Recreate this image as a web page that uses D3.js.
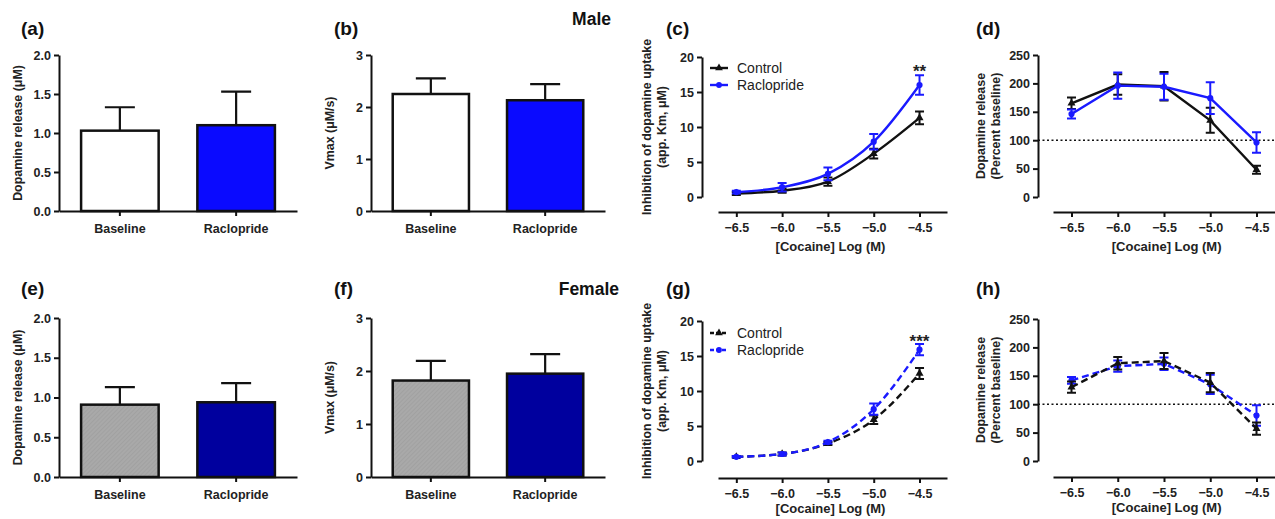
<!DOCTYPE html>
<html lang="en">
<head>
<meta charset="UTF-8">
<title>Raclopride and cocaine</title>
<script src="https://cdn.jsdelivr.net/npm/d3@7"></script>
<style>
  body { margin: 0; background: #fff; }
  text { font-family: "Liberation Sans", Arial, sans-serif; }
</style>
</head>
<body>
<svg width="1275" height="519"></svg>
<script>
// data
var cats = ["Baseline", "Raclopride"];
var releaseMale = [1.03, 1.10], releaseMaleErr = [0.30, 0.43];
var vmaxMale = [2.25, 2.13], vmaxMaleErr = [0.30, 0.31];
var releaseFemale = [0.91, 0.94], releaseFemaleErr = [0.22, 0.24];
var vmaxFemale = [1.82, 1.95], vmaxFemaleErr = [0.37, 0.37];

var logCocaine = [-6.5, -6.0, -5.5, -5.0, -4.5];
var kmMaleCtl = [0.5, 0.9, 2.2, 6.2, 11.3], kmMaleCtlErr = [0.2, 0.3, 0.6, 0.7, 0.9];
var kmMaleRac = [0.7, 1.4, 3.3, 7.9, 16.0], kmMaleRacErr = [0.2, 0.6, 0.9, 1.1, 1.4];
var kmFemCtl = [0.6, 1.0, 2.5, 5.9, 12.5], kmFemCtlErr = [0.1, 0.2, 0.2, 0.6, 0.8];
var kmFemRac = [0.6, 1.0, 2.7, 7.4, 15.9], kmFemRacErr = [0.1, 0.2, 0.2, 0.8, 0.8];
var relMaleCtl = [165, 198, 195, 135, 48], relMaleCtlErr = [10, 18, 25, 22, 7];
var relMaleRac = [146, 196, 194, 174, 96], relMaleRacErr = [8, 23, 23, 28, 18];
var relFemCtl = [130, 172, 176, 138, 57], relFemCtlErr = [10, 11, 14, 17, 11];
var relFemRac = [142, 167, 171, 135, 80], relFemRacErr = [6, 10, 11, 17, 18];

var kmTicks = [0, 5, 10, 15, 20];
var relTicks = [0, 50, 100, 150, 200, 250];

var svg = d3.select("svg");

// hatch for the grey bars
var defs = svg.append("defs");
var pat = defs.append("pattern")
    .attr("id", "hatch").attr("patternUnits", "userSpaceOnUse")
    .attr("width", 3).attr("height", 3)
    .attr("patternTransform", "rotate(45)");
pat.append("rect").attr("width", 3).attr("height", 3).attr("fill", "#a9a9a9");
pat.append("line").attr("x1", 0).attr("y1", 0).attr("x2", 0).attr("y2", 3)
    .attr("stroke", "#9a9a9a").attr("stroke-width", 1);

function fmtMinus(d) { return d3.format(".1f")(d).replace("-", "\u2212"); }

function styleAxis(g) {
    g.selectAll("path, line").attr("stroke", "#111").attr("stroke-width", 2);
    g.selectAll("text").attr("font-size", 12.5).attr("font-weight", "bold").attr("fill", "#222");
}

function panelLabel(x, y, t) {
    svg.append("text").attr("x", x).attr("y", y).text(t)
        .attr("font-size", 19).attr("font-weight", "bold").attr("fill", "#111");
}

function yLabel(x, cy, lines) {
    var t = svg.append("text")
        .attr("transform", "translate(" + x + "," + cy + ") rotate(-90)")
        .attr("text-anchor", "middle").attr("font-size", 12.4)
        .attr("font-weight", "bold").attr("fill", "#222");
    lines.forEach(function (l, i) {
        t.append("tspan").attr("x", 0).attr("dy", i == 0 ? 0 : 15).text(l);
    });
}

function barPanel(o) {
    var y = d3.scaleLinear().domain([0, o.ymax]).range([o.bottom, o.top]);
    var x = d3.scaleBand().domain(cats).range([o.left, o.right])
        .paddingInner(0.333).paddingOuter(0.19);

    var ya = svg.append("g").attr("transform", "translate(" + o.left + ",0)")
        .call(d3.axisLeft(y).tickValues(o.ticks).tickFormat(o.fmt).tickSize(5).tickSizeOuter(0));
    styleAxis(ya);
    var xa = svg.append("g").attr("transform", "translate(0," + o.bottom + ")")
        .call(d3.axisBottom(x).tickSize(5).tickSizeOuter(0).tickPadding(8));
    styleAxis(xa);

    var g = svg.append("g");
    // error bars (upper only)
    g.selectAll(".err").data(o.vals).enter().append("path")
        .attr("d", function (d, i) {
            var cx = x(cats[i]) + x.bandwidth() / 2;
            var top = y(d + o.errs[i]);
            return "M" + cx + "," + y(d) + "V" + top + "M" + (cx - 15) + "," + top + "H" + (cx + 15);
        })
        .attr("stroke", "#111").attr("stroke-width", 2.2).attr("fill", "none");
    g.selectAll(".bar").data(o.vals).enter().append("rect")
        .attr("x", function (d, i) { return x(cats[i]); })
        .attr("y", function (d) { return y(d); })
        .attr("width", x.bandwidth())
        .attr("height", function (d) { return o.bottom - y(d); })
        .attr("fill", function (d, i) { return o.colors[i]; })
        .attr("stroke", "#111").attr("stroke-width", 2.5);
    ya.raise(); xa.raise();
    yLabel(o.left - 37, (o.top + o.bottom) / 2, [o.ylab]);
}

function linePanel(o) {
    var x = d3.scaleLinear().domain([-6.7, -4.2]).range([o.xl, o.xl + 2.5 * o.unit]);
    var y = d3.scaleLinear().domain([0, o.ymax]).range([o.bottom, o.top]);

    var ya = svg.append("g").attr("transform", "translate(" + o.left + ",0)")
        .call(d3.axisLeft(y).tickValues(o.yticks).tickSize(5).tickSizeOuter(0));
    styleAxis(ya);
    var xa = svg.append("g").attr("transform", "translate(0," + o.xaxisY + ")")
        .call(d3.axisBottom(x).tickValues(logCocaine).tickFormat(fmtMinus).tickSize(5).tickSizeOuter(0).tickPadding(6));
    styleAxis(xa);

    if (o.refLine) {
        svg.append("line").attr("x1", o.left).attr("x2", 1275)
            .attr("y1", y(100)).attr("y2", y(100))
            .attr("stroke", "#111").attr("stroke-width", 1.6).attr("stroke-dasharray", "2,2.5");
    }

    var line = d3.line()
        .x(function (d, i) { return x(logCocaine[i]); })
        .y(function (d) { return y(d); })
        .curve(o.smooth ? d3.curveMonotoneX : d3.curveLinear);

    o.series.forEach(function (s) {
        var g = svg.append("g");
        g.append("path").datum(s.vals).attr("d", line)
            .attr("fill", "none").attr("stroke", s.color).attr("stroke-width", 2.4)
            .attr("stroke-dasharray", o.dashed ? "7,4" : null);
        g.selectAll(".eb").data(s.vals).enter().append("path")
            .attr("d", function (d, i) {
                var cx = x(logCocaine[i]), lo = y(d - s.errs[i]), hi = y(d + s.errs[i]);
                return "M" + cx + "," + lo + "V" + hi + "M" + (cx - 4.5) + "," + hi + "H" + (cx + 4.5) +
                    "M" + (cx - 4.5) + "," + lo + "H" + (cx + 4.5);
            })
            .attr("stroke", s.color).attr("stroke-width", 2).attr("fill", "none");
        g.selectAll(".pt").data(s.vals).enter().append("path")
            .attr("transform", function (d, i) { return "translate(" + x(logCocaine[i]) + "," + y(d) + ")"; })
            .attr("d", d3.symbol().type(s.symbol).size(s.symbol == d3.symbolCircle ? 30 : 28))
            .attr("fill", s.color);
    });

    if (o.legendY) {
        o.series.forEach(function (s, i) {
            var ly = o.legendY + i * 17;
            svg.append("line").attr("x1", o.left + 8).attr("x2", o.left + 26)
                .attr("y1", ly).attr("y2", ly).attr("stroke", s.color).attr("stroke-width", 2.4)
                .attr("stroke-dasharray", o.dashed ? "4,2" : null);
            svg.append("path").attr("transform", "translate(" + (o.left + 17) + "," + ly + ")")
                .attr("d", d3.symbol().type(s.symbol).size(26)).attr("fill", s.color);
            svg.append("text").attr("x", o.left + 35).attr("y", ly + 5).text(s.name)
                .attr("font-size", 14).attr("fill", "#222");
        });
    }
    if (o.stars) {
        svg.append("text").attr("x", x(-4.5)).attr("y", o.starsY).attr("text-anchor", "middle")
            .text(o.stars).attr("font-size", 17).attr("font-weight", "bold").attr("fill", "#222");
    }

    svg.append("text").attr("x", (o.xl + x(-4.2)) / 2 - 2).attr("y", o.xaxisY + o.xlabDy)
        .attr("text-anchor", "middle").text("[Cocaine] Log (M)")
        .attr("font-size", 13).attr("font-weight", "bold").attr("fill", "#222");
    yLabel(o.ylabX, (o.top + o.bottom) / 2, o.ylab);
}

// top row: male
barPanel({ left: 59, right: 297, top: 55, bottom: 211, ymax: 2, ticks: [0, 0.5, 1, 1.5, 2],
    fmt: d3.format(".1f"), vals: releaseMale, errs: releaseMaleErr,
    colors: ["#ffffff", "#0a0aff"], ylab: "Dopamine release (\u03bcM)" });
barPanel({ left: 371, right: 605, top: 55, bottom: 211, ymax: 3, ticks: [0, 1, 2, 3],
    fmt: d3.format("d"), vals: vmaxMale, errs: vmaxMaleErr,
    colors: ["#ffffff", "#0a0aff"], ylab: "Vmax (\u03bcM/s)" });
linePanel({ left: 702, top: 57, bottom: 197, xaxisY: 212, xlabDy: 39, xl: 718, unit: 91.6, ymax: 20,
    yticks: kmTicks, smooth: true, dashed: false, legendY: 68, stars: "**", starsY: 77,
    ylabX: 651, ylab: ["Inhibition of  dopamine uptake", "(app. Km, \u03bcM)"],
    series: [
        { name: "Control", vals: kmMaleCtl, errs: kmMaleCtlErr, color: "#111", symbol: d3.symbolTriangle },
        { name: "Raclopride", vals: kmMaleRac, errs: kmMaleRacErr, color: "#1a1aff", symbol: d3.symbolCircle }
    ] });
linePanel({ left: 1038, top: 55, bottom: 197, xaxisY: 212, xlabDy: 39, xl: 1053, unit: 92.5, ymax: 250,
    yticks: relTicks, smooth: false, dashed: false, refLine: true,
    ylabX: 985, ylab: ["Dopamine release", "(Percent baseline)"],
    series: [
        { name: "Control", vals: relMaleCtl, errs: relMaleCtlErr, color: "#111", symbol: d3.symbolTriangle },
        { name: "Raclopride", vals: relMaleRac, errs: relMaleRacErr, color: "#1a1aff", symbol: d3.symbolCircle }
    ] });

// bottom row: female
barPanel({ left: 59, right: 297, top: 318, bottom: 477, ymax: 2, ticks: [0, 0.5, 1, 1.5, 2],
    fmt: d3.format(".1f"), vals: releaseFemale, errs: releaseFemaleErr,
    colors: ["url(#hatch)", "#00009e"], ylab: "Dopamine release (\u03bcM)" });
barPanel({ left: 371, right: 605, top: 318, bottom: 477, ymax: 3, ticks: [0, 1, 2, 3],
    fmt: d3.format("d"), vals: vmaxFemale, errs: vmaxFemaleErr,
    colors: ["url(#hatch)", "#00009e"], ylab: "Vmax (\u03bcM/s)" });
linePanel({ left: 702, top: 321, bottom: 461, xaxisY: 478, xlabDy: 35, xl: 718, unit: 91.6, ymax: 20,
    yticks: kmTicks, smooth: true, dashed: true, legendY: 333, stars: "***", starsY: 347,
    ylabX: 651, ylab: ["Inhibition of  dopamine uptake", "(app. Km, \u03bcM)"],
    series: [
        { name: "Control", vals: kmFemCtl, errs: kmFemCtlErr, color: "#111", symbol: d3.symbolTriangle },
        { name: "Raclopride", vals: kmFemRac, errs: kmFemRacErr, color: "#1a1aff", symbol: d3.symbolCircle }
    ] });
linePanel({ left: 1038, top: 319, bottom: 461, xaxisY: 477, xlabDy: 35, xl: 1053, unit: 92.5, ymax: 250,
    yticks: relTicks, smooth: false, dashed: true, refLine: true,
    ylabX: 985, ylab: ["Dopamine release", "(Percent baseline)"],
    series: [
        { name: "Raclopride", vals: relFemRac, errs: relFemRacErr, color: "#1a1aff", symbol: d3.symbolCircle },
        { name: "Control", vals: relFemCtl, errs: relFemCtlErr, color: "#111", symbol: d3.symbolTriangle }
    ] });

// panel letters and group titles
panelLabel(21, 35, "(a)"); panelLabel(334, 35, "(b)"); panelLabel(666, 35, "(c)"); panelLabel(976, 35, "(d)");
panelLabel(21, 295, "(e)"); panelLabel(334, 295, "(f)"); panelLabel(666, 295, "(g)"); panelLabel(976, 295, "(h)");
svg.append("text").attr("x", 611).attr("y", 25).attr("text-anchor", "end").text("Male")
    .attr("font-size", 17.5).attr("font-weight", "bold").attr("fill", "#111");
svg.append("text").attr("x", 619).attr("y", 295).attr("text-anchor", "end").text("Female")
    .attr("font-size", 17.5).attr("font-weight", "bold").attr("fill", "#111");
</script>
</body>
</html>
